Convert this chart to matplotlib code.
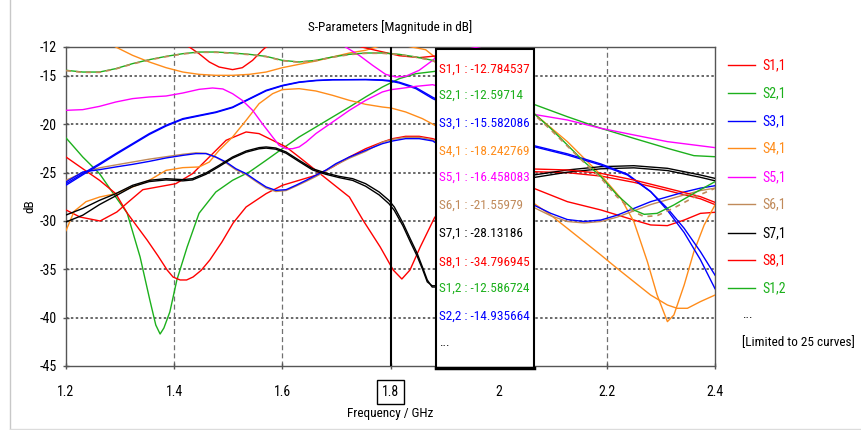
"""
S-parameter magnitude plot with a marker readout at 1.8 GHz.
"""
import matplotlib
matplotlib.use("Agg")
import matplotlib.pyplot as plt
from matplotlib import font_manager
from matplotlib.lines import Line2D
from matplotlib.patches import Rectangle

# ---- curve data (frequency in GHz, magnitude in dB) ----
# points between ~1.89 and 2.065 GHz sit behind the marker box
f_s11 = [1.200, 1.300, 1.400, 1.428, 1.446, 1.465, 1.483, 1.508, 1.526, 1.545, 1.563, 1.570,
         1.620, 1.700, 1.740, 1.754, 1.785, 1.816, 1.853, 1.888,
         2.065, 2.127, 2.189, 2.250, 2.312, 2.373, 2.400]
db_s11 = [-10.5, -10.4, -11.3, -12.0, -12.69, -13.55, -14.07, -14.34, -14.14, -13.38, -12.34, -12.0,
          -10.8, -11.0, -11.9, -12.1, -12.5, -12.9, -13.1, -12.9,
          -24.62, -24.72, -25.07, -25.76, -26.62, -27.48, -28.07]

f_top = [1.200, 1.231, 1.262, 1.292, 1.323, 1.354, 1.385, 1.416, 1.446, 1.477, 1.508, 1.539,
         1.570, 1.600, 1.631, 1.662, 1.693, 1.724, 1.754, 1.785, 1.816, 1.847, 1.878]
db_s21 = [-14.41, -14.59, -14.59, -14.24, -13.72, -13.31, -12.97, -12.69, -12.52, -12.52, -12.62, -12.76,
          -12.97, -13.38, -13.55, -13.38, -13.03, -12.76, -12.62, -12.62, -12.76, -13.03, -13.38]
db_brown_top = [-14.44, -14.62, -14.62, -14.27, -13.75, -13.34, -13.00, -12.72, -12.55, -12.55, -12.65, -12.79,
                -13.00, -13.41, -13.58, -13.41, -13.06, -12.79, -12.65, -12.65, -12.79, -13.06, -13.41]
f_dive = [2.065, 2.096, 2.127, 2.158, 2.189, 2.219, 2.250, 2.269, 2.293, 2.324, 2.361, 2.400]
db_s21_dive = [-18.86, -20.41, -22.14, -23.86, -25.41, -27.31, -28.86, -29.31, -29.21, -28.34, -27.14, -25.93]
db_brown_dive = [-18.95, -20.55, -22.25, -23.95, -25.55, -27.50, -29.05, -29.55, -29.45, -28.65, -27.55, -26.62]

f_s31 = [1.200, 1.231, 1.262, 1.292, 1.323, 1.354, 1.385, 1.416, 1.446, 1.477, 1.508, 1.539,
         1.570, 1.600, 1.631, 1.662, 1.693, 1.724, 1.754, 1.785, 1.801, 1.816, 1.847, 1.878,
         2.065, 2.127, 2.189, 2.238, 2.281, 2.312, 2.343, 2.373, 2.400]
db_s31 = [-26.14, -25.10, -24.07, -23.03, -22.00, -20.96, -20.10, -19.41, -19.07, -18.72, -18.21, -17.34,
          -16.48, -15.97, -15.62, -15.45, -15.38, -15.38, -15.38, -15.45, -15.55, -15.72, -16.31, -17.34,
          -22.31, -23.17, -24.21, -25.24, -26.97, -28.69, -30.76, -33.17, -35.60]
db_s22 = [-26.30, -25.22, -24.18, -23.13, -22.09, -21.05, -20.18, -19.48, -19.13, -18.78, -18.27, -17.40,
          -16.54, -16.02, -15.66, -15.48, -15.40, -15.38, -15.36, -15.40, -15.48, -15.64, -16.20, -17.20,
          -22.20, -23.05, -24.10, -25.15, -26.95, -28.90, -31.20, -34.00, -37.00]

f_s41 = [1.200, 1.215, 1.237, 1.262, 1.292, 1.323, 1.354, 1.385, 1.416, 1.446, 1.465, 1.483,
         1.508, 1.533, 1.557, 1.582, 1.600, 1.631, 1.662, 1.693, 1.724, 1.754, 1.785, 1.801,
         1.828, 1.859, 1.888,
         2.065, 2.096, 2.127, 2.158, 2.189, 2.219, 2.250, 2.281, 2.312, 2.330, 2.349, 2.373, 2.400]
db_s41 = [-31.00, -29.00, -28.00, -27.52, -27.17, -26.48, -25.79, -24.76, -24.48, -24.41, -23.90, -22.69,
          -21.31, -19.59, -17.86, -16.83, -16.41, -16.31, -16.55, -17.00, -17.52, -17.93, -18.21, -18.31,
          -18.72, -19.41, -20.28,
          -28.17, -29.38, -30.76, -32.14, -33.52, -34.90, -36.28, -37.66, -38.69, -39.03, -39.03, -38.34, -37.66]

f_orange_top = [1.200, 1.260, 1.292, 1.323, 1.354, 1.385, 1.416, 1.446, 1.477, 1.508, 1.539, 1.570,
                1.600, 1.631, 1.662, 1.693, 1.724, 1.754, 1.780, 1.830, 1.865, 1.888,
                2.065, 2.127, 2.189, 2.226, 2.250, 2.275, 2.293, 2.312, 2.324, 2.343, 2.361, 2.380, 2.400]
db_orange_top = [-10.0, -11.0, -12.0, -12.86, -13.55, -14.14, -14.59, -14.83, -14.93, -14.93, -14.83, -14.59,
                 -14.14, -13.79, -13.45, -13.03, -12.62, -12.34, -11.9, -11.9, -12.28, -13.31,
                 -18.86, -21.79, -25.24, -27.66, -30.07, -34.21, -37.66, -40.41, -39.72, -36.62, -33.17, -30.41, -28.34]

f_s51 = [1.200, 1.231, 1.262, 1.292, 1.323, 1.354, 1.385, 1.416, 1.446, 1.471, 1.490, 1.508,
         1.526, 1.545, 1.563, 1.582, 1.594, 1.607, 1.619, 1.631, 1.644, 1.662, 1.693, 1.724,
         1.754, 1.785, 1.801, 1.816, 1.847, 1.878,
         2.065, 2.127, 2.189, 2.250, 2.312, 2.400]
db_s51 = [-18.55, -18.48, -18.14, -17.69, -17.34, -17.17, -17.07, -16.76, -16.38, -16.24, -16.34, -16.83,
          -17.52, -18.55, -19.93, -21.31, -22.17, -22.52, -22.52, -22.34, -21.83, -20.96, -19.76, -18.55,
          -17.52, -16.65, -16.41, -16.31, -16.07, -15.90,
          -18.97, -19.55, -20.41, -21.10, -21.79, -22.41]

f_magenta_top = [1.200, 1.500, 1.680, 1.717, 1.742, 1.767, 1.791, 1.810, 1.828, 1.853, 1.878, 1.888,
                 2.065, 2.400]
db_magenta_top = [-10.5, -10.5, -11.0, -12.0, -12.86, -13.90, -14.83, -15.10, -15.03, -14.41, -13.38, -12.86,
                  -10.8, -10.5]

f_low = [1.200, 1.231, 1.262, 1.292, 1.323, 1.354, 1.385, 1.416, 1.440, 1.459, 1.477, 1.496,
         1.514, 1.533, 1.551, 1.570, 1.588, 1.607, 1.625, 1.644, 1.662, 1.680, 1.699, 1.724,
         1.754, 1.785, 1.804, 1.828, 1.853, 1.878,
         2.065, 2.096, 2.127, 2.158, 2.189, 2.219, 2.250, 2.281, 2.312, 2.343, 2.373, 2.400]
db_blue_low = [-25.96, -24.93, -24.69, -24.41, -24.14, -23.83, -23.48, -23.21, -23.03, -23.03, -23.38, -23.90,
               -24.59, -25.10, -25.79, -26.48, -26.83, -26.76, -26.31, -25.79, -25.27, -24.76, -24.07, -23.38,
               -22.69, -22.00, -21.72, -21.48, -21.48, -21.72,
               -28.35, -29.20, -29.85, -30.05, -29.90, -29.40, -28.70, -28.00, -27.50, -27.00, -26.60, -26.35]
db_s61 = [-25.79, -25.00, -24.50, -24.20, -23.90, -23.60, -23.35, -23.10, -22.95, -23.00, -23.40, -24.00,
          -24.70, -25.20, -25.90, -26.60, -26.95, -26.85, -26.40, -25.90, -25.40, -24.85, -24.20, -23.50,
          -22.80, -21.85, -21.55, -21.35, -21.35, -21.60,
          -28.60, -29.45, -30.05, -30.20, -30.05, -29.60, -28.95, -28.30, -27.80, -27.30, -26.85, -26.60]

f_s71 = [1.200, 1.231, 1.262, 1.292, 1.323, 1.354, 1.385, 1.416, 1.434, 1.459, 1.483, 1.508,
         1.533, 1.557, 1.570, 1.588, 1.607, 1.631, 1.656, 1.680, 1.705, 1.730, 1.754, 1.779,
         1.797, 1.807, 1.823, 1.837, 1.849, 1.860, 1.868, 1.877, 1.892,
         2.065, 2.127, 2.189, 2.250, 2.312, 2.373, 2.400]
db_s71 = [-29.38, -28.70, -27.86, -27.17, -26.31, -25.79, -25.62, -25.72, -25.62, -25.03, -24.24, -23.38,
          -22.76, -22.41, -22.34, -22.45, -22.86, -23.72, -24.59, -25.03, -25.38, -25.62, -26.14, -27.00,
          -27.86, -28.55, -30.21, -31.90, -33.31, -34.90, -36.10, -36.83, -36.83,
          -25.24, -24.72, -24.38, -24.28, -24.55, -25.24, -25.59]
db_black2 = [-30.10, -29.40, -28.30, -27.40, -26.45, -25.92, -25.75, -25.85, -25.75, -25.16, -24.37, -23.50,
             -22.88, -22.53, -22.46, -22.57, -22.99, -23.85, -24.72, -25.16, -25.51, -25.80, -26.40, -27.30,
             -28.20, -28.90, -30.50, -32.20, -33.60, -35.10, -36.30, -36.70, -36.70,
             -25.50, -24.95, -24.60, -24.50, -24.78, -25.48, -25.84]

f_s81 = [1.200, 1.226, 1.263, 1.294, 1.313, 1.342, 1.403, 1.434, 1.465, 1.496, 1.533, 1.557,
         1.582, 1.607, 1.631, 1.662, 1.693, 1.724, 1.749, 1.781, 1.805, 1.821, 1.836, 1.855, 1.882,
         2.065, 2.127, 2.189, 2.250, 2.281, 2.312, 2.343, 2.373, 2.400]
db_s81 = [-28.86, -29.59, -30.00, -29.07, -28.14, -26.76, -26.14, -25.10, -23.38, -21.65, -20.79, -20.96,
          -21.65, -22.34, -23.38, -24.76, -26.14, -27.52, -29.90, -32.69, -35.07, -36.00, -35.07, -32.69, -29.59,
          -26.62, -28.00, -28.86, -29.90, -30.41, -30.48, -29.90, -29.21, -29.10]

f_red_low = [1.200, 1.231, 1.262, 1.292, 1.313, 1.350, 1.370, 1.387, 1.398, 1.411, 1.423, 1.435,
             1.450, 1.466, 1.488, 1.509, 1.533, 1.570, 1.600, 1.631, 1.662, 1.693, 1.724, 1.754,
             1.785, 1.804, 1.828, 1.853, 1.878,
             2.065, 2.127, 2.189, 2.250, 2.312, 2.373, 2.400]
db_red_low = [-23.38, -24.59, -25.79, -27.17, -29.17, -31.97, -33.60, -35.07, -35.80, -36.10, -36.10, -35.79,
              -35.10, -34.03, -32.20, -30.21, -28.55, -27.17, -26.31, -25.79, -25.27, -24.41, -23.38, -22.52,
              -21.83, -21.48, -21.24, -21.24, -21.48,
              -24.90, -25.00, -25.35, -26.00, -26.85, -27.70, -28.30]

f_s12 = [1.200, 1.231, 1.262, 1.292, 1.313, 1.337, 1.355, 1.366, 1.374, 1.381, 1.392, 1.405,
         1.424, 1.446, 1.477, 1.508, 1.539, 1.570, 1.600, 1.631, 1.662, 1.693, 1.724, 1.754,
         1.785, 1.816, 1.847, 1.888,
         2.065, 2.127, 2.189, 2.250, 2.312, 2.361, 2.400]
db_s12 = [-21.40, -23.38, -25.10, -27.52, -29.17, -33.72, -38.17, -40.76, -41.69, -41.07, -39.41, -36.10,
          -32.69, -29.20, -27.00, -25.79, -24.93, -23.72, -22.52, -21.31, -20.28, -19.24, -18.21, -17.17,
          -16.14, -15.28, -14.76, -14.48,
          -17.93, -19.21, -20.41, -21.45, -22.48, -23.24, -23.35]

# marker readout at 1.8 GHz and legend
marker_names = ["S1,1", "S2,1", "S3,1", "S4,1", "S5,1", "S6,1", "S7,1", "S8,1", "S1,2", "S2,2"]
marker_values = ["-12.784537", "-12.59714", "-15.582086", "-18.242769", "-16.458083",
                 "-21.55979", "-28.13186", "-34.796945", "-12.586724", "-14.935664"]
legend_names = ["S1,1", "S2,1", "S3,1", "S4,1", "S5,1", "S6,1", "S7,1", "S8,1", "S1,2"]

RED = "#ff0000"
GREEN = "#1cb01c"
BLUE = "#0000ff"
ORANGE = "#ff8c1a"
MAGENTA = "#ff00ff"
BROWN = "#c08a5a"
BLACK = "#000000"

name_colors = {"S1,1": RED, "S2,1": GREEN, "S3,1": BLUE, "S4,1": ORANGE, "S5,1": MAGENTA,
               "S6,1": BROWN, "S7,1": BLACK, "S8,1": RED, "S1,2": GREEN, "S2,2": BLUE}

# the original uses a condensed face; take one if installed, else Liberation Sans a bit smaller
installed = {f.name for f in font_manager.fontManager.ttflist}
FONT, FS = "Liberation Sans", 8.0
for name, size in [("Roboto Condensed", 9.5), ("Liberation Sans Narrow", 10.0),
                   ("DejaVu Sans Condensed", 8.5)]:
    if name in installed:
        FONT, FS = name, size
        break
plt.rcParams["font.family"] = [FONT, "DejaVu Sans"]
plt.rcParams["axes.unicode_minus"] = False

W, H = 862, 430
fig = plt.figure(figsize=(W / 100, H / 100), dpi=100)
ax = fig.add_axes([66 / W, 1 - 366 / H, 649 / W, 319 / H])

curves = [
    (f_s12, db_s12, GREEN),
    (f_red_low, db_red_low, RED),
    (f_s81, db_s81, RED),
    (f_s41, db_s41, ORANGE),
    (f_orange_top, db_orange_top, ORANGE),
    (f_low, db_s61, BROWN),
    (f_low, db_blue_low, BLUE),
    (f_s71, db_black2, BLACK),
    (f_s71, db_s71, BLACK),
    (f_s31, db_s22, BLUE),
    (f_s31, db_s31, BLUE),
    (f_s51, db_s51, MAGENTA),
    (f_magenta_top, db_magenta_top, MAGENTA),
    (f_s11, db_s11, RED),
    (f_top + f_dive, db_s21 + db_s21_dive, GREEN),
]
for freq, mag, color in curves:
    ax.plot(freq, mag, color=color, lw=1.0, zorder=3)
# brown drawn dashed over the green so both show
ax.plot(f_top + f_dive, db_brown_top + db_brown_dive, color=BROWN, lw=1.2, dashes=(3, 3), zorder=3)

ax.set_xlim(1.2, 2.4)
ax.set_ylim(-45, -12)
ax.set_xticks([1.2, 1.4, 1.6, 1.8, 2.0, 2.2, 2.4], ["1.2", "1.4", "1.6", "1.8", "2", "2.2", "2.4"])
ax.set_yticks([-12, -15, -20, -25, -30, -35, -40, -45])

for val in [-15, -20, -25, -30, -35, -40]:
    ax.axhline(val, color="#404040", lw=1.1, dashes=(1.6, 1.6), zorder=1)
for val in [1.4, 1.6, 2.0, 2.2]:
    ax.axvline(val, color="#707070", lw=0.9, dashes=(4, 2.5), zorder=1)

for side in ax.spines.values():
    side.set_color("#555555")
    side.set_linewidth(1.0)
ax.tick_params(direction="inout", length=5, width=1, color="#555555", labelsize=FS + 0.5)
ax.tick_params(axis="x", pad=11)
ax.tick_params(axis="y", pad=4)
ax.get_xticklabels()[3].set_bbox(dict(boxstyle="square,pad=0.35", fc="white", ec="black", lw=1))

# marker line and readout box
ax.axvline(1.8, color="black", lw=1.5, zorder=5)
x0 = (436 - 66) / 649
x1 = (534 - 66) / 649
ax.add_patch(Rectangle((x0, -0.006), x1 - x0, 0.999, transform=ax.transAxes,
                       fc="white", ec="black", lw=1.5, clip_on=False, zorder=10))
ax.plot([x0, x1], [-0.006, -0.006], transform=ax.transAxes, color="black", lw=2.5,
        clip_on=False, zorder=11)
text_y = [69, 95, 123, 151, 177, 205, 233, 262, 288, 316]
tx = (439 - 66) / 649
for name, value, ypix in zip(marker_names, marker_values, text_y):
    ax.text(tx, (366 - ypix) / 319, f"{name} : {value}", transform=ax.transAxes,
            color=name_colors[name], fontsize=FS, va="center", ha="left", zorder=12)
ax.text(tx, (366 - 343) / 319, "...", transform=ax.transAxes, color="black",
        fontsize=FS, va="center", ha="left", zorder=12)

# legend at the right
leg_y = [65, 93, 121, 148, 177, 204, 233, 260, 288]
for name, ypix in zip(legend_names, leg_y):
    fig.add_artist(Line2D([728 / W, 755 / W], [1 - ypix / H, 1 - ypix / H],
                          color=name_colors[name], lw=1.0))
    fig.text(762 / W, 1 - ypix / H, name, color=name_colors[name], fontsize=FS + 0.5,
             va="center", ha="left")
fig.text(742 / W, 1 - 314 / H, "...", color="black", fontsize=FS, va="center", ha="left")
fig.text(742 / W, 1 - 343 / H, "[Limited to 25 curves]", color="black", fontsize=FS,
         va="center", ha="left")

# titles
fig.text(390.5 / W, 1 - 27 / H, "S-Parameters [Magnitude in dB]", fontsize=FS,
         ha="center", va="center")
fig.text(390.5 / W, 1 - 413 / H, "Frequency / GHz", fontsize=FS, ha="center", va="center")
fig.text(30 / W, 1 - 206 / H, "dB", fontsize=FS, ha="center", va="center", rotation=90)

# thin window frame
fig.add_artist(Line2D([10 / W, 10 / W], [0, 1], color="#c8c8c8", lw=1.0))
fig.add_artist(Line2D([10 / W, 1], [1.5 / H, 1.5 / H], color="#dcdcdc", lw=1.0))

fig.savefig("out.png", dpi=100)
